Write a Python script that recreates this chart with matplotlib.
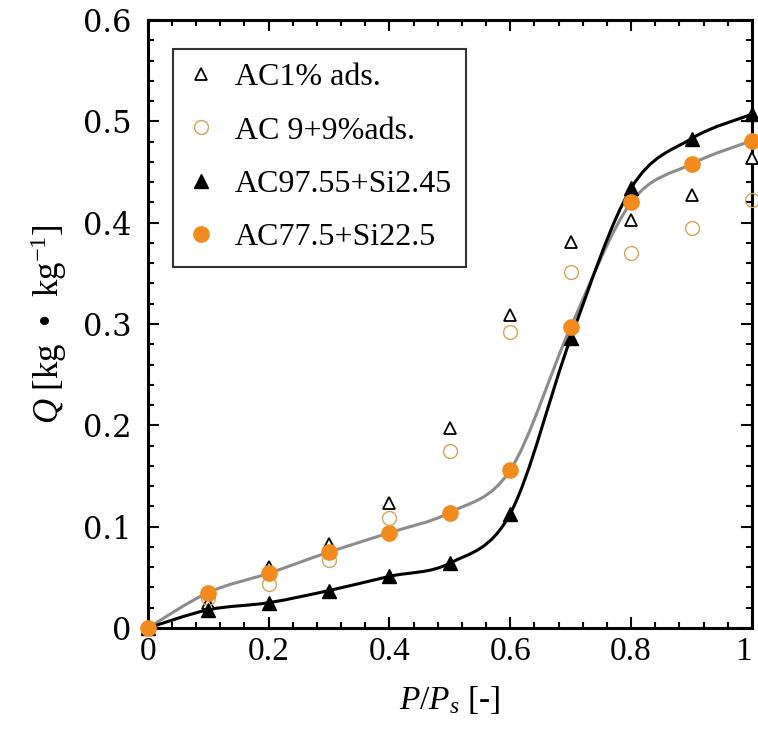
import matplotlib
matplotlib.use("Agg")
import matplotlib.pyplot as plt
import numpy as np
from matplotlib.lines import Line2D
from matplotlib.path import Path
from matplotlib.patches import PathPatch
from matplotlib.ticker import MultipleLocator

plt.rcParams["font.family"] = ["Liberation Serif", "DejaVu Serif"]
plt.rcParams["mathtext.fontset"] = "custom"
plt.rcParams["mathtext.rm"] = "Liberation Serif"
plt.rcParams["mathtext.it"] = "Liberation Serif:italic"

# Data
pressure = [0.0, 0.1, 0.2, 0.3, 0.4, 0.5, 0.6, 0.7, 0.8, 0.9, 1.0]
ac1_ads = [0.0, 0.025, 0.060, 0.083, 0.123, 0.197, 0.309, 0.381, 0.403, 0.427, 0.464]
ac9_ads = [0.0, 0.030, 0.043, 0.067, 0.109, 0.175, 0.292, 0.351, 0.370, 0.395, 0.422]
ac_si245 = [0.0, 0.018, 0.025, 0.037, 0.051, 0.064, 0.113, 0.286, 0.434, 0.483, 0.507]
ac_si225 = [0.0, 0.035, 0.054, 0.075, 0.094, 0.114, 0.156, 0.297, 0.420, 0.458, 0.481]

labels = ["AC1% ads.", "AC 9+9%ads.", "AC97.55+Si2.45", "AC77.5+Si22.5"]
xtick_labels = ["0", "0.2", "0.4", "0.6", "0.8", "1"]
ytick_labels = ["0", "0.1", "0.2", "0.3", "0.4", "0.5", "0.6"]

ORANGE = "#f28a1e"
TAN = "#d6a45a"
GRAY = "#8c8c8c"


def smooth_path(xs, ys):
    # Catmull-Rom curve through the points, as cubic Bezier segments
    pts = np.column_stack([xs, ys]).astype(float)
    ext = np.vstack([pts[0], pts, pts[-1]])
    verts = [pts[0]]
    codes = [Path.MOVETO]
    for i in range(1, len(ext) - 2):
        p0, p1, p2, p3 = ext[i - 1], ext[i], ext[i + 1], ext[i + 2]
        verts += [p1 + (p2 - p0) / 6, p2 - (p3 - p1) / 6, p2]
        codes += [Path.CURVE4] * 3
    return Path(verts, codes)


fig = plt.figure(figsize=(7.58, 7.42), dpi=100)
ax = fig.add_axes([0.195, 0.1536, 0.797, 0.8194])

# Fitted curves
ax.add_patch(PathPatch(smooth_path(pressure, ac_si225), facecolor="none",
                       edgecolor=GRAY, lw=2.2, zorder=2))
ax.add_patch(PathPatch(smooth_path(pressure, ac_si245), facecolor="none",
                       edgecolor="black", lw=2.2, zorder=2))

# Markers
ax.plot(pressure, ac1_ads, ls="none", marker="^", ms=8, mfc="white",
        mec="black", mew=1.3, clip_on=False, zorder=3)
ax.plot(pressure, ac9_ads, ls="none", marker="o", ms=10, mfc="none",
        mec=TAN, mew=1.0, clip_on=False, zorder=3)
ax.plot(pressure, ac_si245, ls="none", marker="^", ms=10, mfc="black",
        mec="black", clip_on=False, zorder=4)
ax.plot(pressure, ac_si225, ls="none", marker="o", ms=11, mfc=ORANGE,
        mec=ORANGE, clip_on=False, zorder=5)

# Axes configuration
ax.set_xlim(0, 1)
ax.set_ylim(0, 0.6)
ax.set_xticks([0, 0.2, 0.4, 0.6, 0.8, 1.0], xtick_labels, fontsize=24)
ax.get_xticklabels()[-1].set_horizontalalignment("right")
ax.set_yticks([0, 0.1, 0.2, 0.3, 0.4, 0.5, 0.6], ytick_labels,
              fontsize=22, family="DejaVu Serif")
ax.xaxis.set_minor_locator(MultipleLocator(0.04))
ax.yaxis.set_minor_locator(MultipleLocator(0.02))
ax.tick_params(which="both", direction="in", top=True, right=True, width=1.5)
ax.tick_params(which="major", length=8)
ax.tick_params(which="minor", length=4)
ax.tick_params(axis="x", which="major", pad=6)
ax.tick_params(axis="y", which="major", pad=12)
for sp in ax.spines.values():
    sp.set_linewidth(2.2)

ax.set_xlabel(r"$\mathit{P}/\mathit{P}_{\mathit{s}}$ [-]", fontsize=24, labelpad=12)
ax.set_ylabel(r"$\mathit{Q}$ [kg  •  kg$^{-1}$]", fontsize=25, labelpad=10)

handles = [
    Line2D([], [], ls="none", marker="^", ms=8, mfc="white", mec="black", mew=1.3),
    Line2D([], [], ls="none", marker="o", ms=10, mfc="none", mec=TAN, mew=1.0),
    Line2D([], [], ls="none", marker="^", ms=10, mfc="black", mec="black"),
    Line2D([], [], ls="none", marker="o", ms=11, mfc=ORANGE, mec=ORANGE),
]
leg = ax.legend(handles, labels, loc="upper left", bbox_to_anchor=(0.041, 0.953),
                fontsize=23, frameon=True, fancybox=False, edgecolor="black",
                handlelength=0.9, handletextpad=0.6, labelspacing=0.75,
                borderpad=0.45, borderaxespad=0)
leg.get_frame().set_linewidth(1.5)

fig.savefig("out.png", dpi=100)
